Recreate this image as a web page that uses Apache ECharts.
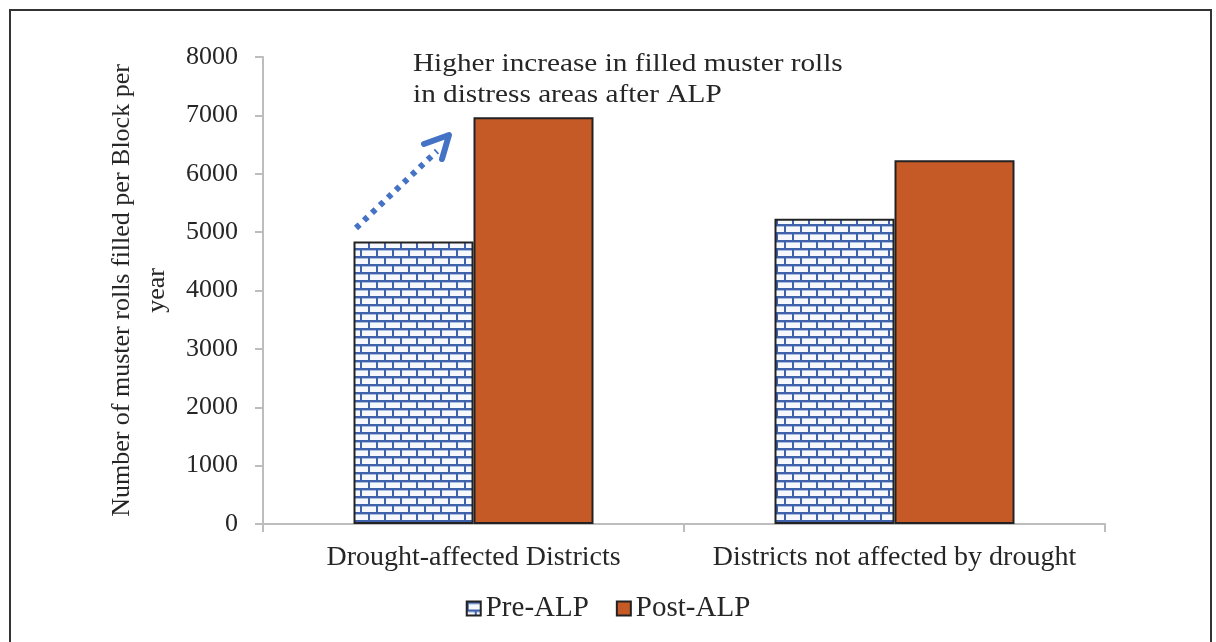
<!DOCTYPE html>
<html><head><meta charset="utf-8">
<script src="https://cdn.jsdelivr.net/npm/echarts@6/dist/echarts.min.js"></script>
<style>html,body{margin:0;padding:0;background:#fff}#c{width:1216px;height:642px}</style>
</head><body><div id="c"></div>
<script>
const categories = ['Drought-affected Districts', 'Districts not affected by drought'];
const preALP = [4840, 5230];
const postALP = [6970, 6230];
const yTicks = { min: 0, max: 8000, interval: 1000 };

const FONT = '"Liberation Serif", "Times New Roman", serif';
const TXT = '#262626';

function brick() {
  const c = document.createElement('canvas');
  c.width = 16; c.height = 16;
  const g = c.getContext('2d');
  g.fillStyle = '#f6f8fd'; g.fillRect(0, 0, 16, 16);
  g.fillStyle = '#3f62aa';
  g.fillRect(0, 0, 16, 2);
  g.fillRect(0, 8, 16, 2);
  g.fillRect(0, 0, 2, 8);
  g.fillRect(8, 8, 2, 8);
  g.fillStyle = '#a9bbdf';
  g.fillRect(2, 2, 14, 1);
  g.fillRect(0, 10, 8, 1); g.fillRect(10, 10, 6, 1);
  return c;
}
const brickPattern = { image: brick(), repeat: 'repeat' };

const chart = echarts.init(document.getElementById('c'), null, { renderer: 'canvas' });
chart.setOption({
  animation: false,
  backgroundColor: '#fff',
  textStyle: { fontFamily: FONT, color: TXT },
  grid: { left: 263, top: 57, right: 111, bottom: 118, containLabel: false },
  legend: {
    bottom: 14, left: 'center',
    icon: 'rect',
    itemWidth: 14, itemHeight: 14, itemGap: 27,
    textStyle: { fontFamily: FONT, fontSize: 29, color: TXT },
    data: ['Pre-ALP', 'Post-ALP']
  },
  xAxis: {
    type: 'category', data: categories,
    axisLine: { lineStyle: { color: '#bdbdbd', width: 2 } },
    axisTick: { show: true, length: 8, alignWithLabel: false, lineStyle: { color: '#bdbdbd', width: 2 } },
    axisLabel: { fontFamily: FONT, fontSize: 28, color: TXT, margin: 20, interval: 0 }
  },
  yAxis: {
    type: 'value', min: yTicks.min, max: yTicks.max, interval: yTicks.interval,
    name: 'Number of muster rolls filled per Block per\nyear',
    nameLocation: 'middle', nameGap: 86, nameRotate: 90,
    nameTextStyle: { fontFamily: FONT, fontSize: 26, color: TXT, lineHeight: 35, align: 'center' },
    splitLine: { show: false },
    axisLine: { show: true, lineStyle: { color: '#bdbdbd', width: 2 } },
    axisTick: { show: true, length: 8, lineStyle: { color: '#bdbdbd', width: 2 } },
    axisLabel: { fontFamily: FONT, fontSize: 26, color: TXT, margin: 25, formatter: v => String(v) }
  },
  series: [
    {
      name: 'Pre-ALP', type: 'bar', data: preALP, barWidth: 120, barGap: '0%',
      itemStyle: { color: brickPattern, borderColor: '#222', borderWidth: 2 }
    },
    {
      name: 'Post-ALP', type: 'bar', data: postALP, barWidth: 120, barGap: '0%',
      itemStyle: { color: '#c55a27', borderColor: '#222', borderWidth: 2 }
    }
  ],
  graphic: [
    { type: 'rect', shape: { x: 10, y: 10, width: 1201, height: 680 }, style: { fill: 'none', stroke: '#333', lineWidth: 2 }, silent: true },
    { type: 'text', x: 413, y: 49, scaleX: 1.17, style: { text: 'Higher increase in filled muster rolls\nin distress areas after ALP', font: '25px ' + FONT, fill: TXT, lineHeight: 31 } },
    { type: 'line', shape: { x1: 356, y1: 228, x2: 437, y2: 151 }, style: { stroke: '#4472c4', lineWidth: 6, lineDash: [5, 6], lineCap: 'butt' } },
    { type: 'polyline', shape: { points: [[424, 144], [449, 135], [442, 159]] }, style: { stroke: '#4472c4', lineWidth: 6, fill: 'none', lineCap: 'round', lineJoin: 'round' } }
  ]
});
</script></body></html>
